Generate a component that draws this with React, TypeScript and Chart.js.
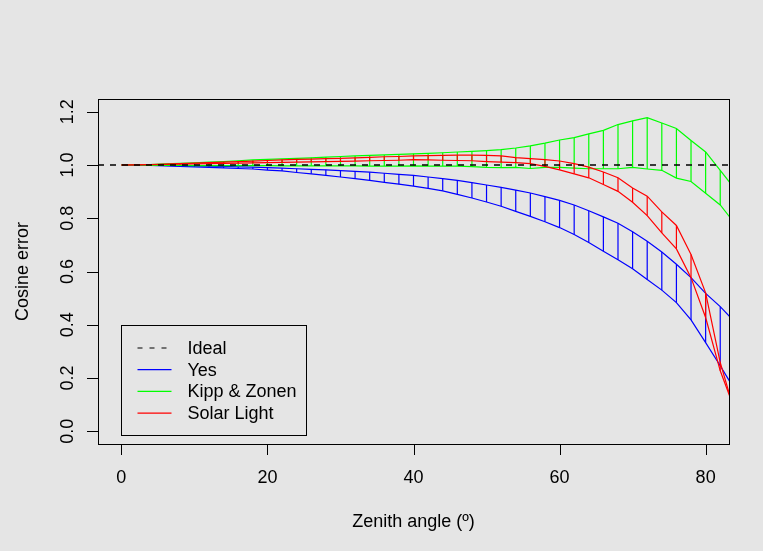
import React, { useEffect, useRef } from "react";
import { Chart, registerables } from "chart.js";

Chart.register(...registerables);

// Zenith angles (degrees)
const angles = [0, 2, 4, 6, 8, 10, 12, 14, 16, 18, 20, 22, 24, 26, 28, 30, 32, 34, 36, 38, 40, 42, 44, 46, 48, 50, 52, 54, 56, 58, 60, 62, 64, 66, 68, 70, 72, 74, 76, 78, 80, 82, 84];

// "Yes" sensor envelope
const yesUpper = [1.000, 1.000, 0.9995, 0.999, 0.998, 0.997, 0.996, 0.995, 0.993, 0.992, 0.990, 0.988, 0.986, 0.984, 0.982, 0.979, 0.976, 0.973, 0.969, 0.965, 0.961, 0.955, 0.949, 0.942, 0.934, 0.925, 0.916, 0.906, 0.895, 0.881, 0.867, 0.850, 0.828, 0.805, 0.781, 0.749, 0.714, 0.673, 0.627, 0.577, 0.518, 0.468, 0.410];
const yesLower = [1.000, 0.9995, 0.999, 0.997, 0.995, 0.993, 0.991, 0.989, 0.987, 0.985, 0.981, 0.978, 0.972, 0.967, 0.961, 0.955, 0.949, 0.942, 0.935, 0.928, 0.921, 0.912, 0.903, 0.890, 0.876, 0.861, 0.845, 0.826, 0.807, 0.787, 0.765, 0.739, 0.709, 0.676, 0.644, 0.610, 0.570, 0.530, 0.483, 0.418, 0.333, 0.246, 0.155];

// "Kipp & Zonen" sensor envelope
const kippUpper = [1.000, 1.001, 1.002, 1.004, 1.006, 1.008, 1.011, 1.013, 1.016, 1.019, 1.021, 1.023, 1.025, 1.027, 1.030, 1.032, 1.034, 1.036, 1.038, 1.040, 1.042, 1.044, 1.046, 1.049, 1.051, 1.054, 1.058, 1.064, 1.072, 1.082, 1.094, 1.103, 1.117, 1.130, 1.152, 1.166, 1.178, 1.158, 1.137, 1.092, 1.049, 0.980, 0.910];
const kippLower = [1.000, 1.000, 0.999, 0.999, 0.999, 0.998, 0.998, 0.998, 0.998, 0.998, 0.998, 0.997, 0.997, 0.997, 0.997, 0.997, 0.997, 0.996, 0.996, 0.996, 0.997, 0.996, 0.996, 0.996, 0.994, 0.991, 0.990, 0.991, 0.987, 0.991, 0.991, 0.988, 0.986, 0.986, 0.986, 0.991, 0.985, 0.980, 0.951, 0.938, 0.894, 0.850, 0.780];

// "Solar Light" sensor envelope
const solarUpper = [1.000, 1.001, 1.002, 1.003, 1.005, 1.007, 1.009, 1.011, 1.013, 1.015, 1.017, 1.019, 1.021, 1.022, 1.024, 1.025, 1.027, 1.029, 1.031, 1.032, 1.034, 1.035, 1.036, 1.037, 1.037, 1.036, 1.034, 1.028, 1.024, 1.020, 1.015, 1.005, 0.992, 0.974, 0.952, 0.914, 0.883, 0.824, 0.773, 0.664, 0.520, 0.258, 0.070];
const solarLower = [1.000, 1.000, 1.001, 1.002, 1.003, 1.004, 1.005, 1.006, 1.007, 1.008, 1.009, 1.010, 1.011, 1.012, 1.013, 1.014, 1.015, 1.016, 1.017, 1.018, 1.020, 1.019, 1.018, 1.017, 1.016, 1.013, 1.011, 1.009, 1.005, 0.995, 0.982, 0.967, 0.952, 0.927, 0.901, 0.860, 0.810, 0.745, 0.685, 0.577, 0.427, 0.227, 0.080];

// Ideal response
const idealValue = 1.0;

// Axes
const xLimits = [0, 80];
const yLimits = [0, 1.2];
const xTicks = [0, 20, 40, 60, 80];
const xTickLabels = ["0", "20", "40", "60", "80"];
const yTicks = [0, 0.2, 0.4, 0.6, 0.8, 1.0, 1.2];
const yTickLabels = ["0.0", "0.2", "0.4", "0.6", "0.8", "1.0", "1.2"];
const xTitle = "Zenith angle (\u00BA)";
const yTitle = "Cosine error";

// Legend
const legendLabels = ["Ideal", "Yes", "Kipp & Zonen", "Solar Light"];
const legendColors = ["#000000", "#0000ff", "#00ff00", "#ff0000"];
const legendAnchor = { x: 0, y: 0.4 };

const FONT = '18px "Liberation Sans", Arial, Helvetica, sans-serif';

const xPad = (xLimits[1] - xLimits[0]) * 0.04;
const yPad = (yLimits[1] - yLimits[0]) * 0.04;

function curve(ys: number[]) {
  return angles.map((x, i) => ({ x, y: ys[i] }));
}
function rungs(lo: number[], hi: number[]) {
  const out: { x: number; y: number | null }[] = [];
  angles.forEach((x, i) => {
    out.push({ x, y: lo[i] }, { x, y: hi[i] }, { x, y: null });
  });
  return out;
}
function lineDs(data: any[], color: string, extra: any = {}) {
  return {
    data,
    borderColor: color,
    backgroundColor: color,
    borderWidth: 1.2,
    pointRadius: 0,
    pointHoverRadius: 0,
    tension: 0,
    fill: false,
    spanGaps: false,
    ...extra,
  };
}

const rPlotPlugin = {
  id: "rPlot",
  afterDraw(chart: any) {
    const ctx = chart.ctx as CanvasRenderingContext2D;
    const { left, right, top, bottom } = chart.chartArea;
    const xs = chart.scales.x;
    const ys = chart.scales.y;
    ctx.save();
    ctx.strokeStyle = "#000";
    ctx.fillStyle = "#000";
    ctx.lineWidth = 1;
    // box
    ctx.strokeRect(Math.round(left) + 0.5, Math.round(top) + 0.5, Math.round(right - left), Math.round(bottom - top));
    const tick = 11;
    // x ticks
    ctx.beginPath();
    xTicks.forEach((v) => {
      const px = Math.round(xs.getPixelForValue(v)) + 0.5;
      ctx.moveTo(px, Math.round(bottom));
      ctx.lineTo(px, Math.round(bottom) + tick);
    });
    // y ticks
    yTicks.forEach((v) => {
      const py = Math.round(ys.getPixelForValue(v)) + 0.5;
      ctx.moveTo(Math.round(left) - tick, py);
      ctx.lineTo(Math.round(left), py);
    });
    ctx.stroke();
    ctx.font = FONT;
    ctx.textAlign = "center";
    ctx.textBaseline = "middle";
    xTicks.forEach((v, i) => {
      ctx.fillText(xTickLabels[i], xs.getPixelForValue(v), bottom + 34);
    });
    yTicks.forEach((v, i) => {
      ctx.save();
      ctx.translate(left - 30, ys.getPixelForValue(v));
      ctx.rotate(-Math.PI / 2);
      ctx.fillText(yTickLabels[i], 0, 0);
      ctx.restore();
    });
    // titles
    ctx.fillText(xTitle, (left + right) / 2, bottom + 78);
    ctx.save();
    ctx.translate(left - 75, (top + bottom) / 2);
    ctx.rotate(-Math.PI / 2);
    ctx.fillText(yTitle, 0, 0);
    ctx.restore();

    // legend
    const lx = Math.round(xs.getPixelForValue(legendAnchor.x)) + 0.5;
    const ly = Math.round(ys.getPixelForValue(legendAnchor.y)) + 0.5;
    const lw = 185;
    const lh = 110;
    ctx.strokeStyle = "#000";
    ctx.lineWidth = 1;
    ctx.strokeRect(lx, ly, lw, lh);
    ctx.textAlign = "left";
    legendLabels.forEach((lab, i) => {
      const ry = ly + 22.5 + i * 21.7;
      ctx.beginPath();
      ctx.strokeStyle = legendColors[i];
      ctx.lineWidth = 1.2;
      ctx.setLineDash(i === 0 ? [5, 7] : []);
      ctx.moveTo(lx + 16, ry);
      ctx.lineTo(lx + 50, ry);
      ctx.stroke();
      ctx.setLineDash([]);
      ctx.fillStyle = "#000";
      ctx.fillText(lab, lx + 66, ry + 1);
    });
    ctx.restore();
  },
};

export default function App() {
  const ref = useRef<HTMLCanvasElement | null>(null);
  useEffect(() => {
    if (!ref.current) return;
    const xMin = xLimits[0] - xPad;
    const xMax = xLimits[1] + xPad;
    const chart = new Chart(ref.current, {
      type: "line",
      data: {
        datasets: [
          lineDs([{ x: xMin, y: idealValue }, { x: xMax, y: idealValue }], "#000000", { borderDash: [6, 6], borderWidth: 1.3 }),
          lineDs(curve(solarUpper), "#ff0000"),
          lineDs(curve(solarLower), "#ff0000"),
          lineDs(rungs(solarLower, solarUpper), "#ff0000"),
          lineDs(curve(kippUpper), "#00ff00"),
          lineDs(curve(kippLower), "#00ff00"),
          lineDs(rungs(kippLower, kippUpper), "#00ff00"),
          lineDs(curve(yesUpper), "#0000ff"),
          lineDs(curve(yesLower), "#0000ff"),
          lineDs(rungs(yesLower, yesUpper), "#0000ff"),
        ] as any,
      },
      options: {
        responsive: false,
        animation: false,
        events: [],
        layout: { padding: { left: 98, right: 34, top: 99, bottom: 107 } },
        plugins: { legend: { display: false }, tooltip: { enabled: false }, title: { display: false } },
        scales: {
          x: { type: "linear", display: false, min: xMin, max: xMax },
          y: { type: "linear", display: false, min: yLimits[0] - yPad, max: yLimits[1] + yPad },
        },
      },
      plugins: [rPlotPlugin],
    });
    return () => chart.destroy();
  }, []);
  return (
    <div style={{ position: "absolute", left: 0, top: 0, width: 763, height: 551, background: "#e5e5e5" }}>
      <canvas ref={ref} width={763} height={551} style={{ display: "block" }} />
    </div>
  );
}
